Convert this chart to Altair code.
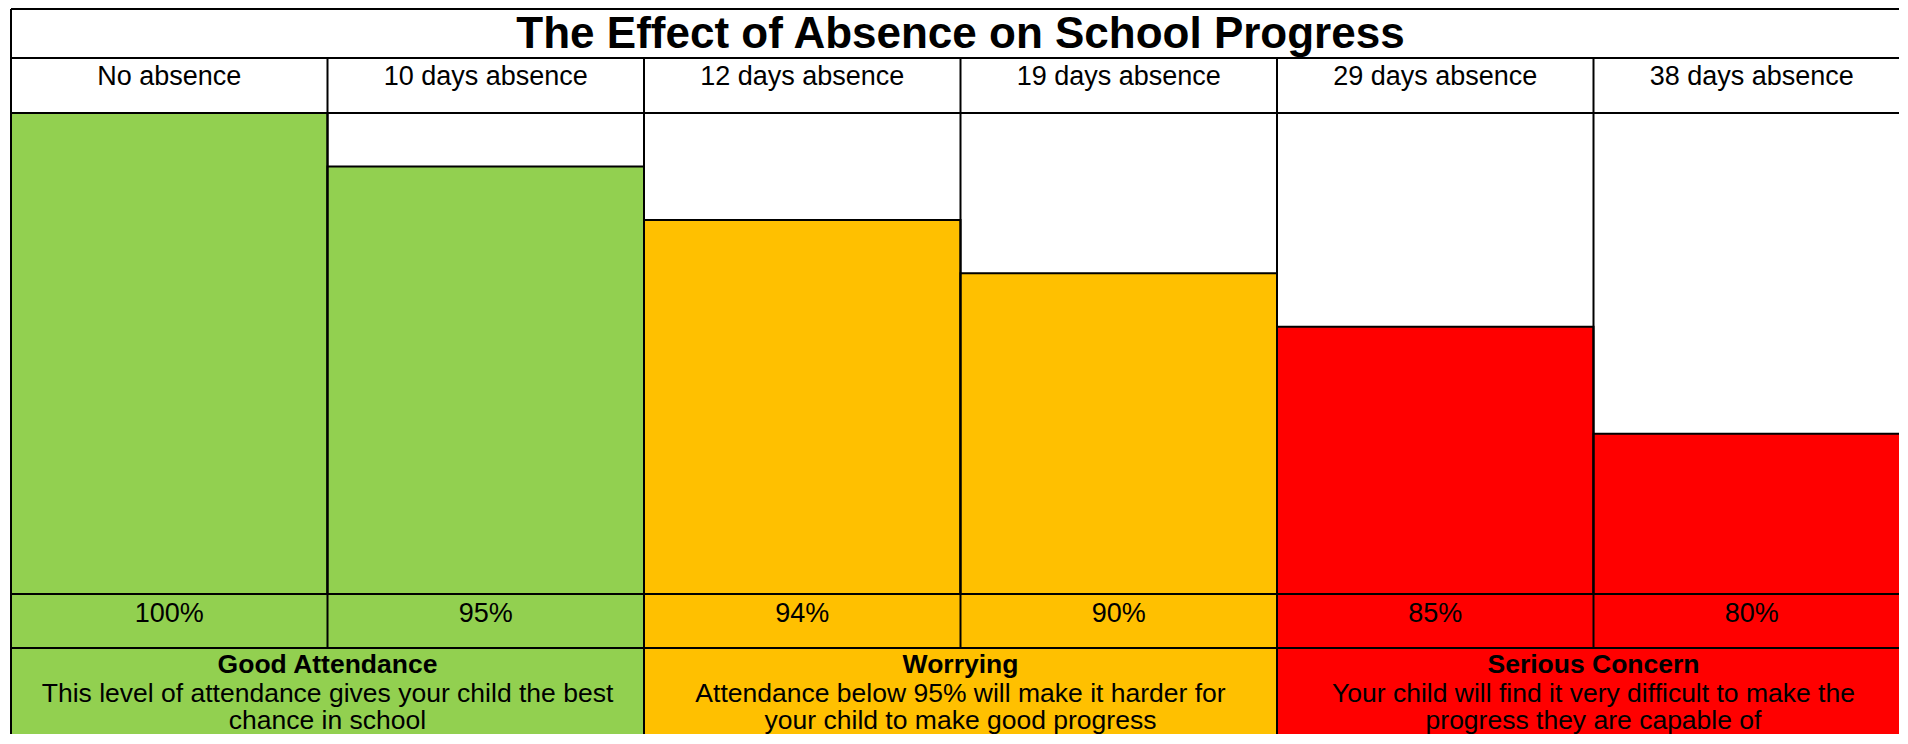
import altair as alt
import pandas as pd

# ---------------- data ----------------
TITLE = "The Effect of Absence on School Progress"
categories = ["No absence", "10 days absence", "12 days absence",
              "19 days absence", "29 days absence", "38 days absence"]
attendance = ["100%", "95%", "94%", "90%", "85%", "80%"]
bar_heights = [9, 8, 7, 6, 5, 3]          # relative bar heights
band = ["good", "good", "worry", "worry", "serious", "serious"]

group_names = ["good", "worry", "serious"]
group_titles = ["Good Attendance", "Worrying", "Serious Concern"]
group_text = [
    "This level of attendance gives your child the best\nchance in school",
    "Attendance below 95% will make it harder for\nyour child to make good progress",
    "Your child will find it very difficult to make the\nprogress they are capable of",
]
group_colors = ["#92D050", "#FFC000", "#FF0000"]

FONT = "Liberation Sans"
W = 1888          # visible plot width (the last column runs off the right edge)
LW = 2

cols = pd.DataFrame({
    "idx": list(range(len(categories))),
    "end": [i + 1 for i in range(len(categories))],
    "mid": [i + 0.5 for i in range(len(categories))],
    "cat": categories,
    "pct": attendance,
    "h": bar_heights,
    "band": band,
})
groups = pd.DataFrame({
    "start": [0, 2, 4],
    "end": [2, 4, 6],
    "mid": [1, 3, 5],
    "band": group_names,
    "title": group_titles,
    "text": group_text,
})
title_df = pd.DataFrame({"t": [TITLE], "x": [3]})
all_bounds = pd.DataFrame({"b": [0, 1, 2, 3, 4, 5]})
left_bound = pd.DataFrame({"b": [0]})
group_bounds = pd.DataFrame({"b": [0, 2, 4]})

xs = alt.Scale(domain=[0, 6], range=[0, 1899], nice=False, zero=False)


def X(field):
    return alt.X(field, type="quantitative", scale=xs, axis=None)


color = alt.Color("band:N", scale=alt.Scale(domain=group_names, range=group_colors), legend=None)


def top_line():
    return alt.Chart(left_bound).mark_rule(color="black", strokeWidth=LW).encode(y=alt.value(0))


def vlines(df):
    return alt.Chart(df).mark_rule(color="black", strokeWidth=LW).encode(x=X("b"))


# ---- title row ----
p_title = alt.layer(
    alt.Chart(title_df).mark_text(font=FONT, fontSize=44, fontWeight="bold",
                                  baseline="alphabetic", align="center", color="black").encode(
        x=X("x"), y=alt.value(39), text="t:N"),
    top_line(),
    vlines(left_bound),
).properties(width=W, height=49)

# ---- header row ----
p_head = alt.layer(
    alt.Chart(cols).mark_text(font=FONT, fontSize=27, baseline="alphabetic",
                              align="center", color="black").encode(
        x=X("mid"), y=alt.value(27), text="cat:N"),
    vlines(all_bounds),
    top_line(),
).properties(width=W, height=55)

# ---- bar area ----
p_bars = alt.layer(
    alt.Chart(cols).mark_rect(stroke="black", strokeWidth=LW, clip=True).encode(
        x=X("idx"), x2="end",
        y=alt.Y("h:Q", scale=alt.Scale(domain=[0, 9], nice=False), axis=None),
        y2=alt.Y2(datum=0),
        color=color),
    vlines(all_bounds),
    top_line(),
).properties(width=W, height=481)

# ---- percentage row ----
p_pct = alt.layer(
    alt.Chart(cols).mark_rect(clip=True).encode(x=X("idx"), x2="end", color=color),
    alt.Chart(cols).mark_text(font=FONT, fontSize=27, baseline="alphabetic",
                              align="center", color="black").encode(
        x=X("mid"), y=alt.value(28), text="pct:N"),
    vlines(all_bounds),
    top_line(),
).properties(width=W, height=54)

# ---- description row ----
p_desc = alt.layer(
    alt.Chart(groups).mark_rect(clip=True).encode(x=X("start"), x2="end", color=color),
    alt.Chart(groups).mark_text(font=FONT, fontSize=26.5, fontWeight="bold", baseline="alphabetic",
                                align="center", color="black").encode(
        x=X("mid"), y=alt.value(25), text="title:N"),
    alt.Chart(groups).mark_text(font=FONT, fontSize=26.5, baseline="alphabetic", align="center",
                                color="black", lineBreak="\n", lineHeight=27).encode(
        x=X("mid"), y=alt.value(54), text="text:N"),
    vlines(group_bounds),
    top_line(),
).properties(width=W, height=86)

chart = alt.vconcat(
    p_title, p_head, p_bars, p_pct, p_desc, spacing=0, bounds="flush"
).properties(
    padding={"left": 2, "top": 0, "right": 0, "bottom": 0}
).configure_view(stroke=None).resolve_scale(color="shared")

chart.save("out.html", embed_options={"renderer": "svg", "actions": False})
